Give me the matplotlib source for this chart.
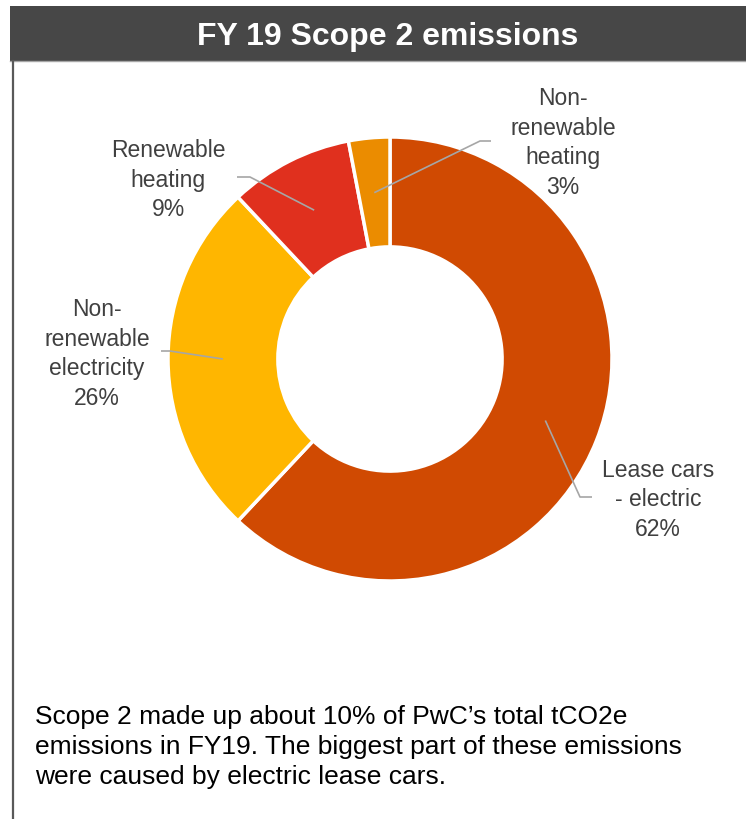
import numpy as np
import matplotlib
matplotlib.use("Agg")
import matplotlib.pyplot as plt
from matplotlib.patches import Rectangle

# Scope 2 breakdown, FY19 (share of tCO2e, %)
categories = ["Lease cars\n- electric", "Non-\nrenewable\nelectricity",
              "Renewable\nheating", "Non-\nrenewable\nheating"]
shares = [62, 26, 9, 3]
colors = ["#d04a02", "#ffb600", "#e0301e", "#eb8c00"]

TITLE = "FY 19 Scope 2 emissions"
NOTE = ("Scope 2 made up about 10% of PwC\u2019s total tCO2e\n"
        "emissions in FY19. The biggest part of these emissions\n"
        "were caused by electric lease cars.")

W, H = 746, 820
CX, CY, R = 390, H - 360, 222
RING = 0.495

# label centre and the elbow where the leader line meets the label (pixel space)
label_pos = [(658, H - 500), (97, H - 354), (168, H - 180), (563, H - 143)]
elbows = [((580, H - 498), (592, H - 498)),
          ((170, H - 352), (161, H - 352)),
          ((250, H - 178), (237, H - 178)),
          ((480, H - 142), (491, H - 142))]

plt.rcParams["font.family"] = ["Liberation Sans", "DejaVu Sans"]

fig = plt.figure(figsize=(W / 100, H / 100), dpi=100)
ax = fig.add_axes([0, 0, 1, 1])

# header band + left frame line
ax.add_patch(Rectangle((10, H - 62), W - 10, 55, facecolor="#474747",
                       edgecolor="none", zorder=1))
ax.plot([10, W], [H - 62, H - 62], color="#a6a6a6", lw=1.0, zorder=2)
ax.plot([13, 13], [0, H - 62], color="#595959", lw=1.6, zorder=2)
ax.text(388, H - 37, TITLE, color="white", fontsize=23, fontweight="bold",
        ha="center", va="center")

wedges, _ = ax.pie(shares, colors=colors, startangle=90, counterclock=False,
                   center=(CX, CY), radius=R, frame=True,
                   wedgeprops=dict(width=R * RING, edgecolor="white", linewidth=2.5))
ax.set_xlim(0, W)
ax.set_ylim(0, H)
ax.set_aspect("equal")
ax.axis("off")

r_mid = R * (1 - RING / 2)
for w, name, val, (lx, ly), (e1, e2) in zip(wedges, categories, shares,
                                             label_pos, elbows):
    ang = np.deg2rad((w.theta1 + w.theta2) / 2)
    ax0 = CX + r_mid * np.cos(ang)
    ay0 = CY + r_mid * np.sin(ang)
    ax.plot([ax0, e1[0], e2[0]], [ay0, e1[1], e2[1]], color="#a6a6a6",
            lw=1.2, zorder=5, solid_capstyle="butt")
    ax.text(lx, ly, f"{name}\n{val}%", ha="center", va="center",
            fontsize=16.5, color="#404040", linespacing=1.37)

ax.text(35, H - 747, NOTE, ha="left", va="center", fontsize=19,
        color="black", linespacing=1.32)

fig.savefig("out.png", dpi=100)
